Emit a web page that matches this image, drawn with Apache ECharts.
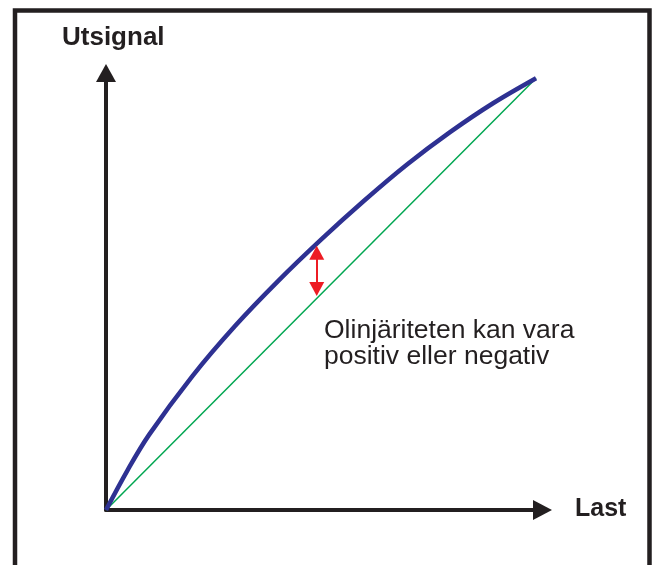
<!DOCTYPE html>
<html>
<head>
<meta charset="utf-8">
<title>Olinjäritet</title>
<script src="https://cdn.jsdelivr.net/npm/echarts@6/dist/echarts.min.js"></script>
<style>
  html, body { margin: 0; padding: 0; background: #fff; }
  #chart { width: 656px; height: 565px; }
</style>
</head>
<body>
<div id="chart"></div>
<script>
// values, both axes 0..100 (end of the curve = 100)
var lastValues = [0, 5, 10, 20, 30, 40, 50, 60, 70, 80, 90, 100]
var utsignal = [0, 9.2, 17.4, 30.9, 42.6, 53.0, 62.6, 71.6, 80.0, 87.5, 94.2, 100]
// ideal straight line
var idealLast = [0, 100]
var idealUtsignal = [0, 100]
// red double arrow showing the deviation
var arrowLast = 49.0
var arrowFrom = 59.6
var arrowTo = 51.2

var yTitle = 'Utsignal'
var xTitle = 'Last'
var noteLines = ['Olinjäriteten kan vara', 'positiv eller negativ']

var ink = '#231f20'
var font = '"Liberation Sans", Arial, sans-serif'

var chart = echarts.init(document.getElementById('chart'))

chart.setOption({
  animation: false,
  grid: {
    left: 106,
    top: 73,
    right: 113.5,
    bottom: 55
  },
  xAxis: {
    type: 'value',
    min: 0,
    max: 101.5,
    splitLine: { show: false },
    axisTick: { show: false },
    axisLabel: { show: false },
    axisLine: {
      show: true,
      symbol: ['none', 'triangle'],
      symbolSize: [20, 19],
      lineStyle: { color: ink, width: 4 }
    }
  },
  yAxis: {
    type: 'value',
    min: 0,
    max: 101.2,
    splitLine: { show: false },
    axisTick: { show: false },
    axisLabel: { show: false },
    axisLine: {
      show: true,
      symbol: ['none', 'triangle'],
      symbolSize: [20, 18],
      lineStyle: { color: ink, width: 4 }
    }
  },
  series: [
    {
      name: 'ideal',
      type: 'line',
      data: idealLast.map(function (x, i) { return [x, idealUtsignal[i]] }),
      showSymbol: false,
      lineStyle: { color: '#00a651', width: 1.5 },
      markLine: {
        silent: true,
        symbol: ['triangle', 'triangle'],
        symbolSize: [15, 14],
        label: { show: false },
        lineStyle: { color: '#ed1c24', width: 2, type: 'solid' },
        data: [[
          { coord: [arrowLast, arrowFrom] },
          { coord: [arrowLast, arrowTo] }
        ]]
      }
    },
    {
      name: 'utsignal',
      type: 'line',
      data: lastValues.map(function (x, i) { return [x, utsignal[i]] }),
      smooth: 0.35,
      showSymbol: false,
      lineStyle: { color: '#2e3192', width: 4.5 }
    }
  ],
  graphic: [
    {
      type: 'rect',
      z: -1,
      shape: { x: 15, y: 10.5, width: 634.5, height: 600 },
      style: { fill: 'none', stroke: ink, lineWidth: 4.5 }
    },
    {
      type: 'text',
      x: 62,
      y: 38,
      style: { text: yTitle, font: 'bold 26px ' + font, fill: ink, verticalAlign: 'middle' }
    },
    {
      type: 'text',
      x: 575,
      y: 509.5,
      style: { text: xTitle, font: 'bold 25px ' + font, fill: ink, verticalAlign: 'middle' }
    },
    {
      type: 'text',
      x: 324,
      y: 331,
      style: { text: noteLines[0], font: '26.5px ' + font, fill: ink, verticalAlign: 'middle' }
    },
    {
      type: 'text',
      x: 324,
      y: 357,
      style: { text: noteLines[1], font: '26.5px ' + font, fill: ink, verticalAlign: 'middle' }
    }
  ]
})
</script>
</body>
</html>
